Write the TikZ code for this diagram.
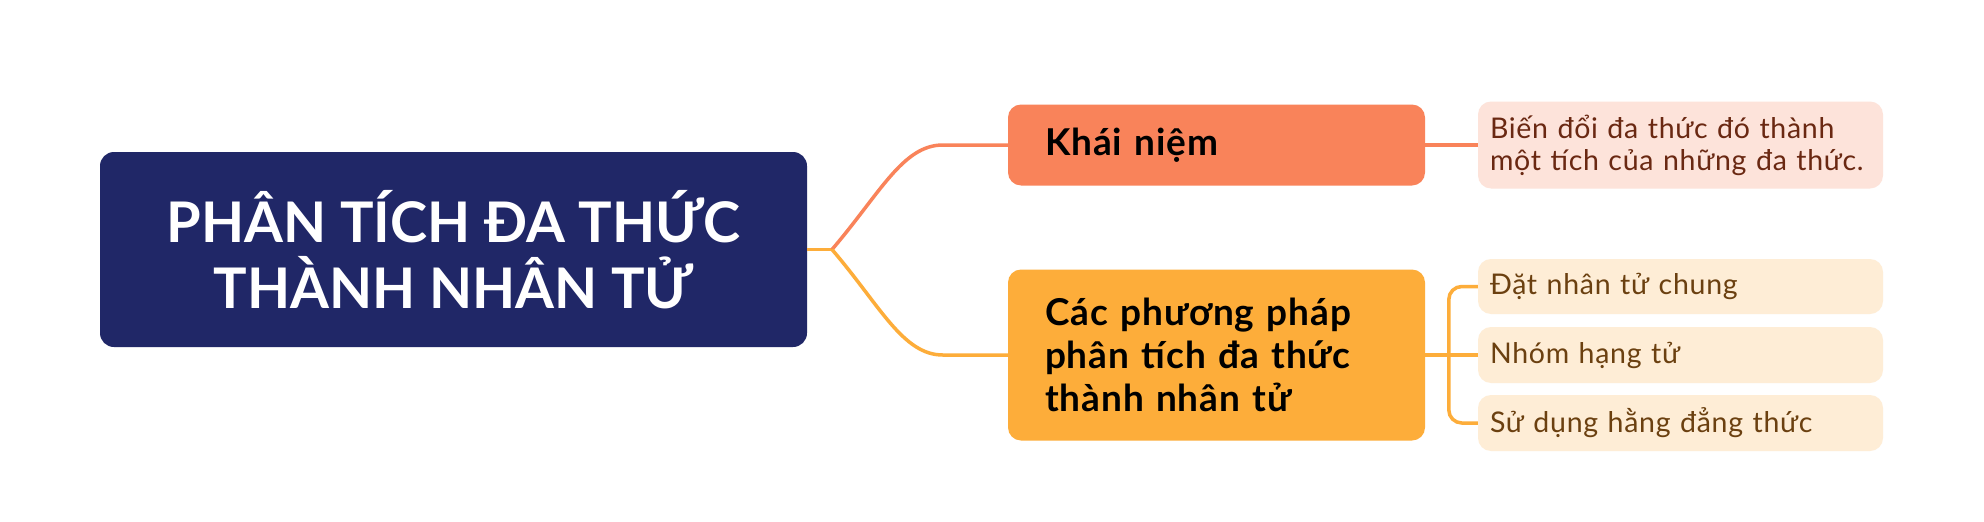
\documentclass[tikz,border=0pt]{standalone}
\usepackage{fontspec}
\setmainfont{Lato}
\newfontfamily\latowide[LetterSpace=2.5]{Lato}
\usetikzlibrary{calc}
\definecolor{cnavy}{HTML}{202767}
\definecolor{ccoral}{HTML}{F9835A}
\definecolor{corange}{HTML}{FDAD3A}
\definecolor{cpink}{HTML}{FDE3DA}
\definecolor{ccream}{HTML}{FEEDD6}
\definecolor{cpinktext}{HTML}{6A2812}
\definecolor{ccreamtext}{HTML}{6B4010}
\tikzset{
  mainbox/.style={fill=cnavy, rounded corners=14pt, minimum width=707pt, minimum height=195pt,
    text=white, align=center, inner sep=0pt, font=\fontsize{56}{66}\selectfont\bfseries},
  lvlone/.style={rounded corners=13pt, minimum width=417pt, text width=343pt, inner xsep=37pt,
    inner ysep=0pt, align=left, text=black, font=\latowide\fontsize{37}{43}\selectfont\bfseries},
  leaf/.style={rounded corners=13pt, minimum width=405pt, text width=381pt, inner xsep=12pt,
    inner ysep=0pt, align=left, font=\latowide\fontsize{28.5}{32}\selectfont},
  link/.style={line width=3.5pt}
}
\begin{document}
\begin{tikzpicture}[x=1pt,y=-1pt]
\fill[white] (0,0) rectangle (1984,522);
\useasboundingbox (0,0) rectangle (1984,522);

\node[mainbox] (main) at (453.5,249.5) {PHÂN TÍCH ĐA THỨC\\THÀNH NHÂN TỬ};
\node[lvlone, fill=ccoral, minimum height=81pt] (khai) at (1216.5,145) {Khái niệm};
\node[lvlone, fill=corange, minimum height=171pt] (cac) at (1216.5,355) {Các phương pháp\\phân tích đa thức\\thành nhân tử};
\node[leaf, fill=cpink, text=cpinktext, minimum height=87pt] (def) at (1680.5,145) {Biến đổi đa thức đó thành\\một tích của những đa thức.};
\node[leaf, fill=ccream, text=ccreamtext, minimum height=55pt] (m1) at (1680.5,286.5) {Đặt nhân tử chung};
\node[leaf, fill=ccream, text=ccreamtext, minimum height=56pt] (m2) at (1680.5,355) {Nhóm hạng tử};
\node[leaf, fill=ccream, text=ccreamtext, minimum height=56pt] (m3) at (1680.5,423) {Sử dụng hằng đẳng thức};

\coordinate (J) at (832,249.5);
\draw[link, corange] (main.east) -- (J);
\draw[link, ccoral] (J) .. controls +(48,-56) and ($(khai.west)+(-105,0)$) .. ($(khai.west)+(-65,0)$) -- (khai.west);
\draw[link, corange] (J) .. controls +(48,56) and ($(cac.west)+(-105,0)$) .. ($(cac.west)+(-65,0)$) -- (cac.west);
\draw[link, ccoral] (khai.east) -- (def.west);
\draw[link, corange] (cac.east) -- (m2.west);
\draw[link, corange, rounded corners=13pt] (m1.west) -| ($(m3.west)+(-29,0)$) -- (m3.west);
\end{tikzpicture}
\end{document}
